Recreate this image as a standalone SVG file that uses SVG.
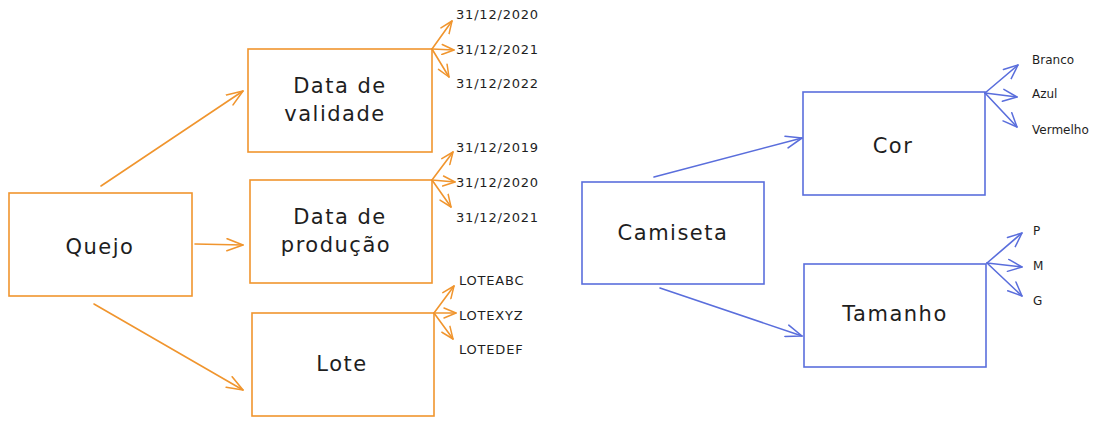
<svg xmlns="http://www.w3.org/2000/svg" width="1096" height="426" viewBox="0 0 1096 426">
<style>
.bo{fill:none;stroke:#f0952e;stroke-width:1.6}
.bb{fill:none;stroke:#5a6edc;stroke-width:1.6}
.co{fill:none;stroke:#f0952e;stroke-width:1.6;stroke-linecap:round}
.cb{fill:none;stroke:#5a6edc;stroke-width:1.6;stroke-linecap:round}
.lbl{font-family:"DejaVu Sans",sans-serif;font-size:21px;fill:#1e1e1e;text-anchor:middle;dominant-baseline:central;letter-spacing:1.5px}
.sm{font-family:"DejaVu Sans",sans-serif;font-size:13px;fill:#1e1e1e;dominant-baseline:central;letter-spacing:0.8px}
.xs{font-family:"DejaVu Sans",sans-serif;font-size:12px;fill:#1e1e1e;dominant-baseline:central;letter-spacing:0px}
</style>
<defs>
<marker id="ao" viewBox="0 0 18 14" refX="17" refY="7" markerWidth="18" markerHeight="14" markerUnits="userSpaceOnUse" orient="auto"><path d="M1,1 L17,7 L1,13" fill="none" stroke="#f0952e" stroke-width="1.6" stroke-linecap="round" stroke-linejoin="round"/></marker>
<marker id="ab" viewBox="0 0 18 14" refX="17" refY="7" markerWidth="18" markerHeight="14" markerUnits="userSpaceOnUse" orient="auto"><path d="M1,1 L17,7 L1,13" fill="none" stroke="#5a6edc" stroke-width="1.6" stroke-linecap="round" stroke-linejoin="round"/></marker>
<marker id="so" viewBox="0 0 14 12" refX="13" refY="6" markerWidth="14" markerHeight="12" markerUnits="userSpaceOnUse" orient="auto"><path d="M1,1 L13,6 L1,11" fill="none" stroke="#f0952e" stroke-width="1.5" stroke-linecap="round" stroke-linejoin="round"/></marker>
<marker id="sb" viewBox="0 0 16 14" refX="15" refY="7" markerWidth="16" markerHeight="14" markerUnits="userSpaceOnUse" orient="auto"><path d="M1,1 L15,7 L1,13" fill="none" stroke="#5a6edc" stroke-width="1.5" stroke-linecap="round" stroke-linejoin="round"/></marker>
</defs>

<g id="connectors">
<line class="co" x1="101" y1="186" x2="243" y2="91" marker-end="url(#ao)"/>
<line class="co" x1="195" y1="244" x2="243" y2="245" marker-end="url(#ao)"/>
<line class="co" x1="94" y1="304" x2="243" y2="390" marker-end="url(#ao)"/>
<line class="cb" x1="654" y1="177" x2="802" y2="138" marker-end="url(#ab)"/>
<line class="cb" x1="660" y1="288" x2="802" y2="336" marker-end="url(#ab)"/>

<line class="co" x1="432" y1="49" x2="452" y2="21" marker-end="url(#so)"/>
<line class="co" x1="432" y1="49" x2="454" y2="50" marker-end="url(#so)"/>
<line class="co" x1="432" y1="49" x2="449" y2="77" marker-end="url(#so)"/>

<line class="co" x1="432" y1="180" x2="453" y2="152" marker-end="url(#so)"/>
<line class="co" x1="432" y1="180" x2="455" y2="182" marker-end="url(#so)"/>
<line class="co" x1="432" y1="180" x2="451" y2="207" marker-end="url(#so)"/>

<line class="co" x1="434" y1="313" x2="454" y2="286" marker-end="url(#so)"/>
<line class="co" x1="434" y1="313" x2="456" y2="313" marker-end="url(#so)"/>
<line class="co" x1="434" y1="313" x2="453" y2="339" marker-end="url(#so)"/>

<line class="cb" x1="985" y1="93" x2="1018" y2="65" marker-end="url(#sb)"/>
<line class="cb" x1="985" y1="93" x2="1017" y2="97" marker-end="url(#sb)"/>
<line class="cb" x1="985" y1="93" x2="1017" y2="127" marker-end="url(#sb)"/>

<line class="cb" x1="987" y1="263" x2="1022" y2="233" marker-end="url(#sb)"/>
<line class="cb" x1="987" y1="263" x2="1022" y2="267" marker-end="url(#sb)"/>
<line class="cb" x1="987" y1="263" x2="1022" y2="296" marker-end="url(#sb)"/>
</g>

<g id="queijo"><rect class="bo" x="9" y="193" width="183" height="103"/><text class="lbl" x="100" y="247">Quejo</text></g>
<g id="validade"><rect class="bo" x="248" y="49" width="184" height="103"/><text class="lbl" x="340" y="86">Data de</text><text class="lbl" x="335" y="114">validade</text></g>
<g id="producao"><rect class="bo" x="250" y="180" width="182" height="103"/><text class="lbl" x="340" y="217">Data de</text><text class="lbl" x="336" y="245">produção</text></g>
<g id="lote"><rect class="bo" x="252" y="313" width="182" height="103"/><text class="lbl" x="342" y="364">Lote</text></g>
<g id="camiseta"><rect class="bb" x="582" y="182" width="182" height="102"/><text class="lbl" x="673" y="233">Camiseta</text></g>
<g id="cor"><rect class="bb" x="803" y="92" width="182" height="103"/><text class="lbl" x="893" y="146">Cor</text></g>
<g id="tamanho"><rect class="bb" x="804" y="264" width="182" height="103"/><text class="lbl" x="895" y="314">Tamanho</text></g>

<g id="validade-values">
<text class="sm" x="456" y="14">31/12/2020</text>
<text class="sm" x="456" y="49">31/12/2021</text>
<text class="sm" x="456" y="83">31/12/2022</text>
</g>
<g id="producao-values">
<text class="sm" x="456" y="147">31/12/2019</text>
<text class="sm" x="456" y="182">31/12/2020</text>
<text class="sm" x="456" y="217">31/12/2021</text>
</g>
<g id="lote-values">
<text class="sm" x="459" y="280">LOTEABC</text>
<text class="sm" x="459" y="315">LOTEXYZ</text>
<text class="sm" x="459" y="349">LOTEDEF</text>
</g>
<g id="cor-values">
<text class="xs" x="1032" y="60">Branco</text>
<text class="xs" x="1032" y="94">Azul</text>
<text class="xs" x="1032" y="130">Vermelho</text>
</g>
<g id="tamanho-values">
<text class="xs" x="1033" y="231">P</text>
<text class="xs" x="1033" y="266">M</text>
<text class="xs" x="1033" y="301">G</text>
</g>
</svg>
